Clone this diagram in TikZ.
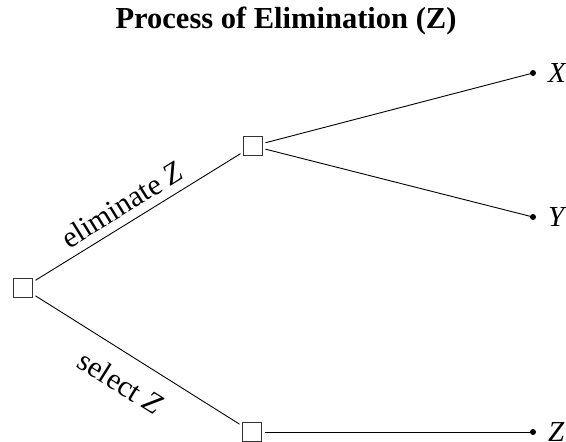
\documentclass[tikz,border=0pt]{standalone}
\usepackage{fontspec}
\setmainfont{Liberation Serif}
\begin{document}
\begin{tikzpicture}[x=1pt,y=-1pt,
  choice/.style={draw=black!80, line width=1.1pt, minimum size=19pt, inner sep=0pt, outer sep=3pt},
  leaf/.style={circle, fill, inner sep=0pt, minimum size=6pt},
  branch/.style={line width=0.9pt},
  outcome/.style={font=\fontsize{29}{33}\selectfont\itshape, anchor=west, inner sep=0pt},
  edgelabel/.style={font=\fontsize{30}{34}\selectfont, sloped},
  heading/.style={font=\fontsize{30.5}{36}\selectfont\bfseries, anchor=base}]
\useasboundingbox (0,0) rectangle (566,442);

% title
\node[heading] (title) at (286,28) {Process of Elimination (Z)};

% decision boxes
\node[choice] (root) at (23,288) {};
\node[choice] (mid)  at (253,146) {};
\node[choice] (low)  at (252,432) {};

% terminal points
\node[leaf] (x) at (533,73) {};
\node[leaf] (y) at (533,217) {};
\node[leaf] (z) at (533,432) {};

% outcome labels
\node[outcome] (xl) at ([xshift=15pt]x.center) {X};
\node[outcome] (yl) at ([xshift=15pt]y.center) {Y};
\node[outcome] (zl) at ([xshift=15pt]z.center) {Z};

% branches
\draw[branch] (root) -- node[edgelabel, above, pos=0.47, inner sep=8pt] (el) {eliminate \textit{Z}} (mid);
\draw[branch] (root) -- node[edgelabel, below, pos=0.49, inner sep=17pt] (sl) {select \textit{Z}} (low);
\draw[branch] (mid) -- (x.center);
\draw[branch] (mid) -- (y.center);
\draw[branch] (low) -- (z.center);
\end{tikzpicture}
\end{document}
